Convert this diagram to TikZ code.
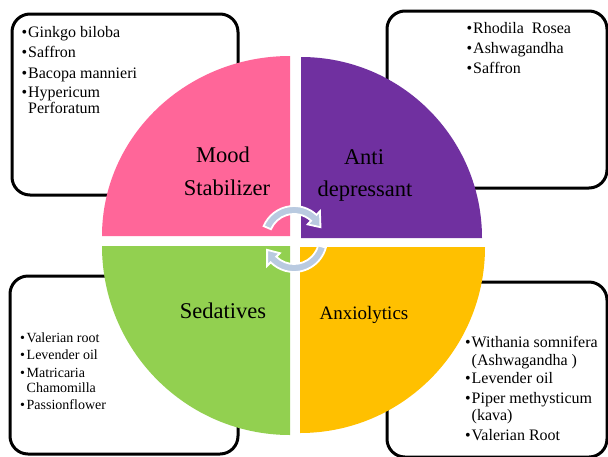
\documentclass[tikz,border=0pt]{standalone}
\usepackage{fontspec}
\setmainfont{Liberation Serif}
\definecolor{moodpink}{HTML}{FF6699}
\definecolor{antipurple}{HTML}{7030A0}
\definecolor{sedgreen}{HTML}{92D050}
\definecolor{anxorange}{HTML}{FFC000}
\definecolor{arrowblue}{HTML}{B9CAE0}
\newcommand{\itembul}{\makebox[6.5pt][l]{•}}
\begin{document}
\begin{tikzpicture}[x=1pt,y=-1pt,
  box/.style={draw=black, line width=3pt, rounded corners=18pt},
  item/.style={anchor=base west, inner sep=0pt, font=\fontsize{16}{16}\selectfont},
  smallitem/.style={anchor=base west, inner sep=0pt, font=\fontsize{14}{14}\selectfont},
  qlabel/.style={anchor=base, inner sep=0pt, font=\fontsize{22.5}{22.5}\selectfont},
  cyc/.style={fill=arrowblue, draw=white, line width=1.8pt, line join=miter}]
\useasboundingbox (0,0) rectangle (608,456);
\fill[white] (0,0) rectangle (608,456);
% boxes
\draw[box] (12,14) rectangle (238,195);
\draw[box] (387,11) rectangle (607,188);
\draw[box] (10,276) rectangle (238,454);
\draw[box] (387,282) rectangle (607,457);
% quadrants
\fill[moodpink] (290,236) -- ++(-188,0) arc[start angle=180, end angle=270, x radius=188, y radius=180] -- cycle;
\fill[antipurple] (301,238) -- ++(0,-181) arc[start angle=270, end angle=360, radius=181] -- cycle;
\fill[anxorange] (300,247) -- ++(185,0) arc[start angle=0, end angle=90, x radius=185, y radius=186] -- cycle;
\fill[sedgreen] (290,246) -- ++(0,189) arc[start angle=90, end angle=180, x radius=188, y radius=189] -- cycle;
% quadrant labels
\node[qlabel] (mood) at (223,162) {Mood};
\node[qlabel] (stab) at (227,195) {Stabilizer};
\node[qlabel] (anti) at (364,164) {Anti};
\node[qlabel] (depr) at (365,196) {depressant};
\node[qlabel] (sed) at (223,318) {Sedatives};
\node[qlabel, font=\fontsize{19}{19}\selectfont] (anx) at (364,319) {Anxiolytics};
% cycle arrows
\filldraw[cyc, shift={(294,239)}] (203:33) arc[start angle=203, end angle=313, radius=33]
  -- (313:38) -- (336:29) -- (313:20) -- (313:25)
  arc[start angle=313, end angle=203, radius=25] -- cycle;
\filldraw[cyc, shift={(294,239)}] (15:33) arc[start angle=15, end angle=135, radius=33]
  -- (135:38) -- (158:29) -- (135:20) -- (135:25)
  arc[start angle=135, end angle=15, radius=25] -- cycle;
% top-left list
\node[item] (tl1) at (21.5,37) {\itembul Ginkgo biloba};
\node[item] (tl2) at (21.5,57) {\itembul Saffron};
\node[item] (tl3) at (21.5,78) {\itembul Bacopa mannieri};
\node[item] (tl4) at (21.5,97) {\itembul Hypericum};
\node[item] (tl5) at (28,113) {Perforatum};
% top-right list
\node[item] (tr1) at (466.5,33) {\itembul Rhodila\ \ Rosea};
\node[item] (tr2) at (466.5,53) {\itembul Ashwagandha};
\node[item] (tr3) at (466.5,73) {\itembul Saffron};
% bottom-left list
\node[smallitem] (bl1) at (20,342) {\itembul Valerian root};
\node[smallitem] (bl2) at (20,359) {\itembul Levender oil};
\node[smallitem] (bl3) at (20,377) {\itembul Matricaria};
\node[smallitem] (bl4) at (26.5,392) {Chamomilla};
\node[smallitem] (bl5) at (20,409) {\itembul Passionflower};
% bottom-right list
\node[item] (br1) at (465,347) {\itembul Withania somnifera};
\node[item] (br2) at (471.5,365) {(Ashwagandha )};
\node[item] (br3) at (465,383) {\itembul Levender oil};
\node[item] (br4) at (465,403) {\itembul Piper methysticum};
\node[item] (br5) at (471.5,420) {(kava)};
\node[item] (br6) at (465,440) {\itembul Valerian Root};
\end{tikzpicture}
\end{document}
